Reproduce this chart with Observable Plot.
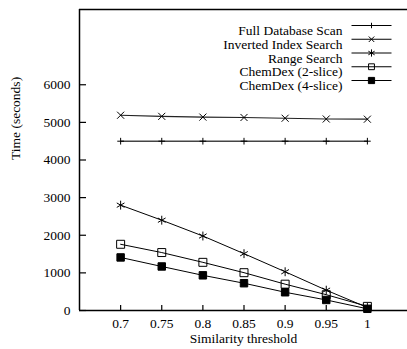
<!DOCTYPE html>
<html><head><meta charset="utf-8">
<script src="https://cdn.jsdelivr.net/npm/d3@7"></script>
<script src="https://cdn.jsdelivr.net/npm/@observablehq/plot@0.6"></script>
<style>
body{margin:0;background:#fff}
#chart svg text{font-family:"Liberation Serif","Times New Roman",serif !important;}
</style>
</head><body><div id="chart"></div>
<script>
const thresholds = [0.7, 0.75, 0.8, 0.85, 0.9, 0.95, 1];
const fullScan = [4500, 4500, 4500, 4500, 4500, 4500, 4500];
const invertedIndex = [5190, 5160, 5140, 5130, 5110, 5090, 5085];
const rangeSearch = [2800, 2400, 1980, 1510, 1030, 540, 80];
const chemdex2 = [1760, 1540, 1280, 1005, 700, 420, 110];
const chemdex4 = [1410, 1170, 935, 725, 485, 280, 45];
const seriesNames = ["Full Database Scan", "Inverted Index Search", "Range Search", "ChemDex (2-slice)", "ChemDex (4-slice)"];
const xTicks = [0.7, 0.75, 0.8, 0.85, 0.9, 0.95, 1];
const yTicks = [0, 1000, 2000, 3000, 4000, 5000, 6000];

const seriesValues = [fullScan, invertedIndex, rangeSearch, chemdex2, chemdex4];
const styles = [
  {symbol: "plus", r: 2.3, fill: "none", lineStroke: "#444", lw: 1.4, lr: 1.9},
  {symbol: "times", r: 3.3, fill: "none", lineStroke: "#222", lw: 1.2, lr: 2.6},
  {symbol: "asterisk", r: 4.2, fill: "none", lineStroke: "black", lw: 1, lr: 3.4},
  {symbol: "square", r: 4.5, fill: "none", lineStroke: "black", lw: 1, lr: 3.3},
  {symbol: "square", r: 4.2, fill: "black", lineStroke: "black", lw: 1, lr: 3.5}
];
const rows = seriesNames.flatMap((name, i) => thresholds.map((x, j) => ({series: name, x, y: seriesValues[i][j]})));

const legendLine = {draw(ctx) { ctx.moveTo(-20, 0); ctx.lineTo(20, 0); }};

const frameMarks = [
  Plot.ruleY([0], {stroke: "black", strokeWidth: 1.5}),
  Plot.ruleY([8000], {stroke: "black", strokeWidth: 1.5}),
  Plot.ruleX([0.65], {stroke: "black", strokeWidth: 1.5}),
  Plot.axisY(yTicks, {tickSize: 0, tickPadding: 9, tickFormat: d => String(d), label: null}),
  Plot.axisY(yTicks, {tickSize: 7, dx: 7, tickFormat: () => "", strokeWidth: 1.2, label: null}),
  Plot.axisX(xTicks, {tickSize: 0, tickPadding: 8, tickFormat: d => String(d), label: null}),
  Plot.axisX(xTicks, {tickSize: 5, dy: -5, tickFormat: () => "", strokeWidth: 1.2, label: null}),
  Plot.text(["Time (seconds)"], {frameAnchor: "left", dx: -64, rotate: -90}),
  Plot.text(["Similarity threshold"], {frameAnchor: "bottom", dy: 32})
];
const dataMarks = seriesNames.flatMap((name, i) => {
  const st = styles[i];
  const d = rows.filter(r => r.series === name);
  return [
    Plot.line(d, {x: "x", y: "y", stroke: st.lineStroke, strokeWidth: st.lw}),
    Plot.dot(d, {x: "x", y: "y", symbol: st.symbol, r: st.r, stroke: "black", strokeWidth: 1, fill: st.fill})
  ];
});
const legendMarks = seriesNames.flatMap((name, i) => {
  const st = styles[i];
  const dy = 16 + i * 13.75;
  return [
    Plot.text([name], {frameAnchor: "top-right", dx: -65, dy, textAnchor: "end"}),
    Plot.dot([name], {frameAnchor: "top-right", dx: -36, dy, symbol: legendLine, r: 5, stroke: "black", strokeWidth: 1, fill: "none"}),
    Plot.dot([name], {frameAnchor: "top-right", dx: -36, dy, symbol: st.symbol, r: st.lr, stroke: "black", strokeWidth: 1, fill: st.fill})
  ];
});

const chart = Plot.plot({
  width: 407, height: 349,
  marginLeft: 79, marginRight: 0, marginTop: 9, marginBottom: 39,
  x: {domain: [0.65, 1.05], range: [79, 408]},
  y: {domain: [0, 8000], range: [310, 9]},
  style: {fontFamily: "'Liberation Serif', serif", fontSize: "13.5px", color: "black", background: "white", overflow: "visible"},
  marks: [...dataMarks, ...frameMarks, ...legendMarks]
});
document.getElementById("chart").appendChild(chart);
</script>
</body></html>
